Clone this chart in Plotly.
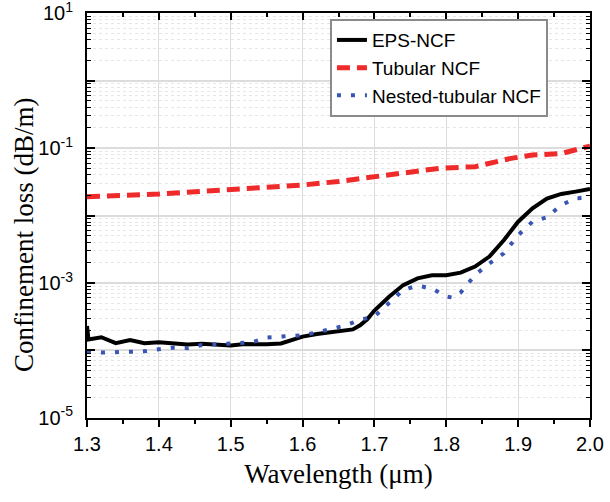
import plotly.graph_objects as go

# ---- data ----
eps_wl = [1.300, 1.302, 1.32, 1.34, 1.36, 1.38, 1.40, 1.42, 1.44, 1.46, 1.48, 1.50, 1.52, 1.55, 1.57,
          1.59, 1.60, 1.62, 1.65, 1.67, 1.68, 1.69, 1.70, 1.72, 1.74, 1.76, 1.78, 1.80, 1.82, 1.84,
          1.86, 1.88, 1.90, 1.92, 1.94, 1.96, 1.98, 2.00]
eps_loss = [2.3e-4, 1.45e-4, 1.57e-4, 1.28e-4, 1.43e-4, 1.28e-4, 1.32e-4, 1.25e-4, 1.22e-4, 1.25e-4,
            1.2e-4, 1.18e-4, 1.24e-4, 1.23e-4, 1.27e-4, 1.45e-4, 1.6e-4, 1.75e-4, 1.95e-4, 2.05e-4,
            2.36e-4, 2.9e-4, 3.9e-4, 6.2e-4, 9.3e-4, 1.17e-3, 1.3e-3, 1.3e-3, 1.42e-3, 1.75e-3,
            2.46e-3, 4.3e-3, 8.1e-3, 1.28e-2, 1.78e-2, 2.09e-2, 2.26e-2, 2.47e-2]

tub_wl = [1.30, 1.35, 1.40, 1.45, 1.50, 1.55, 1.60, 1.65, 1.70, 1.74, 1.79, 1.84, 1.865, 1.89, 1.92, 1.96, 2.00]
tub_loss = [0.019, 0.0198, 0.0208, 0.0225, 0.0244, 0.026, 0.0283, 0.032, 0.0376, 0.042, 0.050, 0.053,
            0.0605, 0.0703, 0.0787, 0.083, 0.107]

nest_wl = [1.30, 1.32, 1.35, 1.38, 1.40, 1.42, 1.44, 1.46, 1.50, 1.53, 1.55, 1.57, 1.60, 1.62, 1.64,
           1.66, 1.68, 1.70, 1.72, 1.74, 1.76, 1.78, 1.80, 1.81, 1.82, 1.84, 1.86, 1.88, 1.90, 1.92,
           1.94, 1.96, 1.98, 2.00]
nest_loss = [9.6e-5, 9.3e-5, 9.5e-5, 9.7e-5, 1.04e-4, 1.1e-4, 1.08e-4, 1.2e-4, 1.27e-4, 1.32e-4,
             1.55e-4, 1.62e-4, 1.68e-4, 1.85e-4, 2.05e-4, 2.35e-4, 2.83e-4, 3.2e-4, 5e-4, 7.9e-4,
             9.1e-4, 8.3e-4, 6.3e-4, 6.05e-4, 7.2e-4, 1.31e-3, 1.95e-3, 2.75e-3, 5.1e-3, 8.1e-3,
             9.4e-3, 1.43e-2, 1.8e-2, 1.84e-2]

x_ticks = [1.3, 1.4, 1.5, 1.6, 1.7, 1.8, 1.9, 2.0]
x_ticklabels = ["1.3", "1.4", "1.5", "1.6", "1.7", "1.8", "1.9", "2.0"]
y_exps = [1, 0, -1, -2, -3, -4, -5]
y_labeled = [1, -1, -3, -5]

y_tickvals = [10.0 ** e for e in y_exps]
y_ticktext = [("10<sup>%d</sup>" % e) if e in y_labeled else " " for e in y_exps]
y_minor = [m * 10.0 ** e for e in range(-5, 1) for m in range(2, 10)]
x_minor = [1.35, 1.45, 1.55, 1.65, 1.75, 1.85, 1.95]

fig = go.Figure()
fig.add_trace(go.Scatter(x=eps_wl, y=eps_loss, mode="lines", name="EPS-NCF",
                         line=dict(color="black", width=4)))
fig.add_trace(go.Scatter(x=tub_wl, y=tub_loss, mode="lines", name="Tubular NCF",
                         line=dict(color="#EE2A2A", width=5, dash="13px,7px")))
fig.add_trace(go.Scatter(x=nest_wl, y=nest_loss, mode="lines", name="Nested-tubular NCF",
                         line=dict(color="#3A56B4", width=4, dash="4px,10px")))

tickfont = dict(family="Liberation Sans, Arial", size=20, color="black")
titlefont = dict(family="Liberation Serif, Times New Roman", size=27, color="black")

fig.update_layout(
    width=610, height=502,
    margin=dict(l=87, r=20, t=13, b=84),
    paper_bgcolor="white", plot_bgcolor="white",
    showlegend=True,
    legend=dict(x=0.483, y=0.985, xanchor="left", yanchor="top",
                bgcolor="white", bordercolor="#8a8a8a", borderwidth=2,
                font=dict(family="Liberation Sans, Arial", size=19, color="black"),
                entrywidth=205, entrywidthmode="pixels",
                tracegroupgap=0),
    xaxis=dict(range=[1.3, 2.0], tickmode="array", tickvals=x_ticks, ticktext=x_ticklabels,
               ticks="outside", ticklen=7, tickwidth=1.5, tickcolor="black",
               showline=True, linecolor="black", linewidth=2, automargin=False,
               showgrid=True, gridcolor="#dcdcdc", gridwidth=1, zeroline=False,
               tickfont=tickfont,
               title=dict(text="Wavelength (μm)", font=titlefont, standoff=10),
               minor=dict(tickmode="array", tickvals=x_minor, ticks="outside", ticklen=4,
                          tickwidth=1.5, tickcolor="black", showgrid=False)),
    xaxis2=dict(range=[1.3, 2.0], overlaying="x", side="top", tickmode="array",
                tickvals=x_ticks, ticks="inside", ticklen=7, tickwidth=1.5, tickcolor="black",
                showticklabels=False, showline=True, linecolor="black", linewidth=2,
                showgrid=False, zeroline=False, automargin=False,
                minor=dict(tickmode="array", tickvals=x_minor, ticks="inside", ticklen=4,
                           tickwidth=1.5, tickcolor="black", showgrid=False)),
    yaxis=dict(type="log", range=[-5.002, 1.002], tickmode="array", tickvals=y_tickvals,
               ticktext=y_ticktext, ticklabeloverflow="allow",
               ticks="inside", ticklen=8, tickwidth=1.5, tickcolor="black",
               showline=True, linecolor="black", linewidth=2, mirror="ticks",
               showgrid=True, gridcolor="#dcdcdc", gridwidth=1.5, zeroline=False,
               tickfont=tickfont, ticklabelstandoff=8, automargin=False,
               minor=dict(tickmode="array", tickvals=y_minor, ticks="inside", ticklen=4,
                          tickwidth=1.2, tickcolor="black", showgrid=True,
                          gridcolor="#e6e6e6", griddash="dot", gridwidth=1)),
    annotations=[dict(text="Confinement loss (dB/m)", textangle=-90, showarrow=False,
                      xref="paper", yref="paper", x=-0.125, y=0.452,
                      xanchor="center", yanchor="middle", font=titlefont)],
)

# invisible trace so the top axis renders
fig.add_trace(go.Scatter(x=[1.3, 2.0], y=[1e-5, 1e-5], xaxis="x2", mode="lines",
                         line=dict(width=0), showlegend=False, hoverinfo="skip"))

fig.write_html("out.html", config={"displayModeBar": False},
               post_script="document.body.style.margin='0';document.body.style.padding='0';")
